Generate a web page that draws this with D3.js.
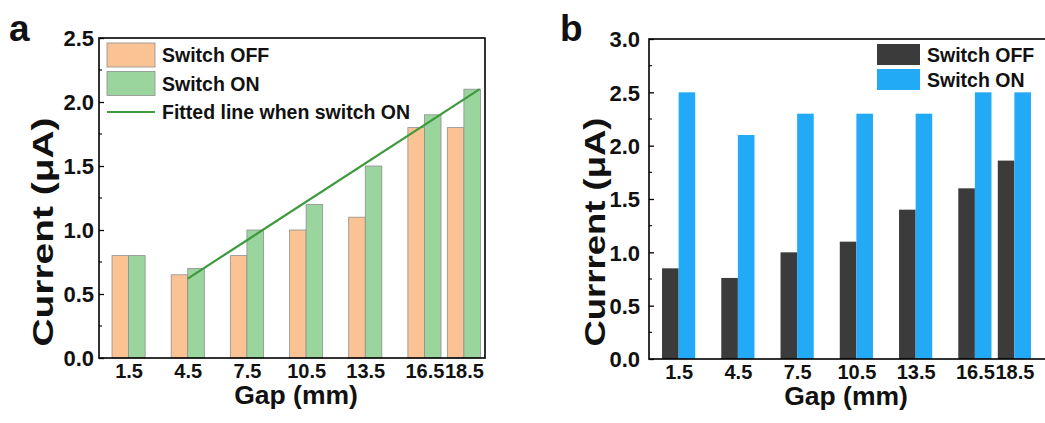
<!DOCTYPE html>
<html>
<head>
<meta charset="utf-8">
<script src="https://cdn.jsdelivr.net/npm/d3@7"></script>
<style>
  body { margin: 0; background: #fff; }
  svg { display: block; font-family: "Liberation Sans", Arial, sans-serif; font-weight: bold; }
</style>
</head>
<body>
<svg id="canvas" width="1045" height="423"></svg>
<script>
(function () {
    // gap categories (mm), shared by both panels
    const gaps = [1.5, 4.5, 7.5, 10.5, 13.5, 16.5, 18.5];

    // panel a
    const aOff = [0.8, 0.65, 0.8, 1.0, 1.1, 1.8, 1.8];
    const aOn = [0.8, 0.7, 1.0, 1.2, 1.5, 1.9, 2.1];
    const fitGap = [4.5, 19.3];
    const fitCurrent = [0.62, 2.10];
    const aTicks = [0, 0.5, 1.0, 1.5, 2.0, 2.5];

    // panel b
    const bOff = [0.85, 0.76, 1.0, 1.1, 1.4, 1.6, 1.86];
    const bOn = [2.5, 2.1, 2.3, 2.3, 2.3, 2.5, 2.5];
    const bTicks = [0, 0.5, 1.0, 1.5, 2.0, 2.5, 3.0];

    const barW = 0.84; // bar width in mm

    const svg = d3.select("#canvas");

    function panel(opt) {
        const g = svg.append("g");

        const x = d3.scaleLinear().domain(opt.xDomain).range([opt.left, opt.right]);
        const y = d3.scaleLinear().domain(opt.yDomain).range([opt.bottom, opt.top]);

        // bars
        const series = [
            { vals: opt.off, color: opt.offColor, shift: -barW },
            { vals: opt.on, color: opt.onColor, shift: 0 }
        ];
        series.forEach(s => {
            g.append("g").selectAll("rect")
                .data(gaps.map((d, i) => ({ gap: d, v: s.vals[i] })))
                .join("rect")
                .attr("x", d => x(d.gap + s.shift))
                .attr("y", d => y(d.v))
                .attr("width", x(barW) - x(0))
                .attr("height", d => y(0) - y(d.v))
                .attr("fill", s.color)
                .attr("stroke", opt.barStroke)
                .attr("stroke-width", opt.barStroke === "none" ? 0 : 0.8);
        });

        // fitted line
        if (opt.fit) {
            g.append("path")
                .datum(fitGap.map((d, i) => [d, fitCurrent[i]]))
                .attr("d", d3.line().x(d => x(d[0])).y(d => y(d[1])))
                .attr("stroke", "#3f9a3f")
                .attr("stroke-width", 2.2)
                .attr("fill", "none");
        }

        // frame
        g.append("rect")
            .attr("x", opt.left).attr("y", opt.top)
            .attr("width", opt.frameRight - opt.left)
            .attr("height", opt.bottom - opt.top)
            .attr("fill", "none").attr("stroke", "#000").attr("stroke-width", 1.6);

        // left axis, ticks inward
        const yAxis = g.append("g")
            .attr("transform", `translate(${opt.left},0)`)
            .call(d3.axisLeft(y).tickValues(opt.ticks).tickFormat(d3.format(".1f")).tickSize(-5).tickPadding(opt.tickPad))
            .call(a => a.select(".domain").remove());
        yAxis.selectAll("line").attr("stroke-width", 1.3);
        yAxis.selectAll("text")
            .attr("font-size", 22).attr("font-family", "Liberation Sans, Arial, sans-serif")
            .attr("font-weight", "bold").attr("fill", "#111").attr("dy", "0.36em");

        // minor ticks
        const minor = d3.range(opt.ticks.length - 1).map(i => (opt.ticks[i] + opt.ticks[i + 1]) / 2);
        g.append("g").selectAll("line")
            .data(minor).join("line")
            .attr("x1", opt.left).attr("x2", opt.left + 3)
            .attr("y1", d => y(d)).attr("y2", d => y(d))
            .attr("stroke", "#000").attr("stroke-width", 1.1);

        // bottom tick labels
        const xAxis = g.append("g")
            .attr("transform", `translate(0,${opt.bottom})`)
            .call(d3.axisBottom(x).tickValues(gaps).tickFormat(d3.format(".1f")).tickSize(0).tickPadding(6))
            .call(a => a.select(".domain").remove());
        xAxis.selectAll("text")
            .attr("font-size", 20).attr("font-family", "Liberation Sans, Arial, sans-serif")
            .attr("font-weight", "bold").attr("fill", "#111").attr("dy", "0.71em");

        // axis titles
        g.append("text")
            .attr("x", opt.gapX).attr("y", opt.gapY)
            .attr("text-anchor", "middle")
            .attr("font-size", 26.5).attr("fill", "#111")
            .text("Gap (mm)");

        g.append("text")
            .attr("transform", `translate(${opt.titleX},232) rotate(-90)`)
            .attr("text-anchor", "middle")
            .attr("font-size", 30).attr("fill", "#111")
            .attr("textLength", 229).attr("lengthAdjust", "spacingAndGlyphs")
            .text(opt.yTitle);

        // panel letter
        g.append("text")
            .attr("x", opt.letterX).attr("y", 41)
            .attr("font-size", 37).attr("fill", "#111")
            .text(opt.letter);

        // legend
        const leg = g.append("g");
        opt.legend.forEach((it, i) => {
            const yy = opt.legY + i * opt.legStep;
            if (it.type === "box") {
                leg.append("rect")
                    .attr("x", opt.legX).attr("y", yy)
                    .attr("width", opt.legW).attr("height", opt.legH)
                    .attr("fill", it.color)
                    .attr("stroke", opt.barStroke).attr("stroke-width", opt.barStroke === "none" ? 0 : 0.8);
            } else {
                leg.append("line")
                    .attr("x1", opt.legX).attr("x2", opt.legX + opt.legW)
                    .attr("y1", yy + opt.legH / 2).attr("y2", yy + opt.legH / 2)
                    .attr("stroke", it.color).attr("stroke-width", 2.2);
            }
            leg.append("text")
                .attr("x", opt.legX + opt.legW + 7)
                .attr("y", yy + opt.legH / 2)
                .attr("dy", "0.36em")
                .attr("font-size", 19.5).attr("fill", "#111")
                .text(it.label);
        });
    }

    panel({
        letter: "a", letterX: 9,
        left: 99, right: 485, frameRight: 485, top: 38, bottom: 358,
        xDomain: [0, 19.57], yDomain: [0, 2.5], ticks: aTicks, tickPad: 5,
        off: aOff, on: aOn, offColor: "#fbc393", onColor: "#9ad59d", barStroke: "#8f8f8f",
        fit: true, gapX: 296, gapY: 404, titleX: 53,
        yTitle: "Current (\u03bcA)",
        legX: 107, legY: 43, legStep: 28.5, legW: 48, legH: 24,
        legend: [
            { type: "box", color: "#fbc393", label: "Switch OFF" },
            { type: "box", color: "#9ad59d", label: "Switch ON" },
            { type: "line", color: "#3f9a3f", label: "Fitted line when switch ON" }
        ]
    });

    panel({
        letter: "b", letterX: 560,
        left: 649, right: 1044, frameRight: 1047, top: 39, bottom: 359,
        xDomain: [0, 20], yDomain: [0, 3.0], ticks: bTicks, tickPad: 9,
        off: bOff, on: bOn, offColor: "#3b3b3b", onColor: "#22aaf7", barStroke: "none",
        fit: false, gapX: 846, gapY: 405, titleX: 605,
        yTitle: "Currrent (\u03bcA)",
        legX: 877, legY: 44, legStep: 25, legW: 43, legH: 21,
        legend: [
            { type: "box", color: "#3b3b3b", label: "Switch OFF" },
            { type: "box", color: "#22aaf7", label: "Switch ON" }
        ]
    });
})();
</script>
</body>
</html>
